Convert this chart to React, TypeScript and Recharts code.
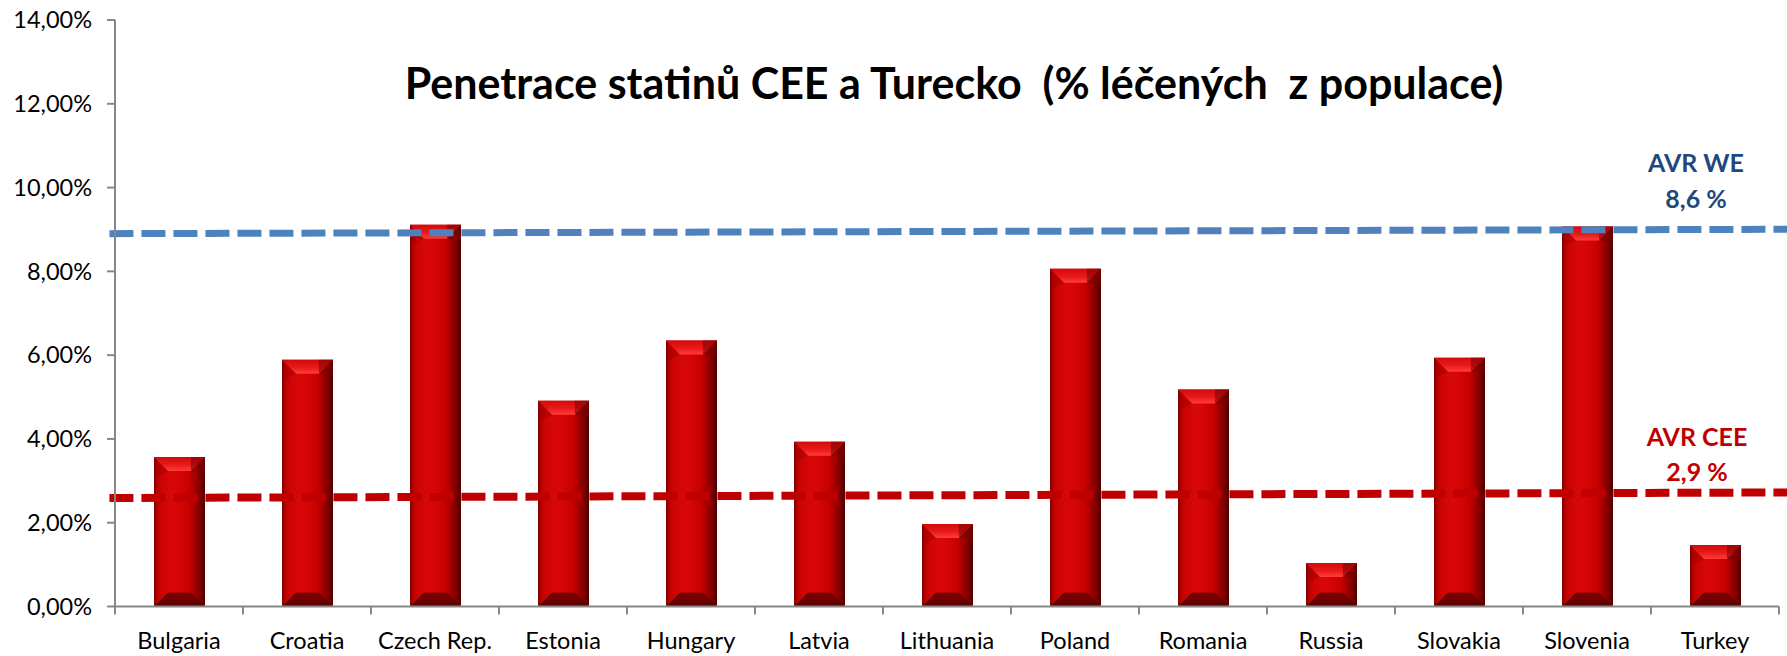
import React from 'react';
import { BarChart, Bar, XAxis, YAxis, ReferenceLine } from 'recharts';

// ─── data ────────────────────────────────────────────────────────────────
const countries = [
  'Bulgaria', 'Croatia', 'Czech Rep.', 'Estonia', 'Hungary', 'Latvia', 'Lithuania',
  'Poland', 'Romania', 'Russia', 'Slovakia', 'Slovenia', 'Turkey',
];
const penetration = [3.57, 5.89, 9.11, 4.91, 6.35, 3.93, 1.97, 8.06, 5.18, 1.04, 5.94, 9.07, 1.47];
const yTicks = [0, 2, 4, 6, 8, 10, 12, 14];

// average lines (start / end of the dashed segment, in % and band units)
const avgWe = [8.9, 9.01];
const avgCee = [2.59, 2.73];
const avgSpan = [-0.04, 12.8];

const data = countries.map((name, i) => ({ name, value: penetration[i] }));

const W = 1787;
const H = 656;
const M = { top: 20, right: 8, bottom: 0, left: 0 };
const Y_AXIS_W = 115;
const X_AXIS_H = 49.5;
const BAND = (W - M.right - Y_AXIS_W) / countries.length;
const BAR_W = 51;

const FONT = 'Lato, "Open Sans", sans-serif';

const fmtPct = (v: number) => v.toFixed(2).replace('.', ',') + '%';

// gradients live in their own tiny svg so every bar can point at them
const BarDefs = () => (
  <svg width={0} height={0} style={{ position: 'absolute' }}>
    <defs>
      <linearGradient id="barSide" x1="0" y1="0" x2="1" y2="0">
        <stop offset="0%" stopColor="#7e0000" />
        <stop offset="6%" stopColor="#b80000" />
        <stop offset="16%" stopColor="#d00404" />
        <stop offset="40%" stopColor="#d80808" />
        <stop offset="66%" stopColor="#cc0000" />
        <stop offset="82%" stopColor="#a00000" />
        <stop offset="100%" stopColor="#520000" />
      </linearGradient>
      <linearGradient id="barTop" x1="0" y1="0" x2="0" y2="1">
        <stop offset="0%" stopColor="#d40a0a" />
        <stop offset="55%" stopColor="#e81a1a" />
        <stop offset="100%" stopColor="#ff3c3c" />
      </linearGradient>
      <linearGradient id="barBottom" x1="0" y1="0" x2="0" y2="1">
        <stop offset="0%" stopColor="#800000" />
        <stop offset="100%" stopColor="#5e0000" />
      </linearGradient>
    </defs>
  </svg>
);

// ─── bevelled bar ───────────────────────────────────────────────────────
// recharts may hand over a negative width/height, so normalise first
const BevelBar = (props: any) => {
  const rx = Number(props.x);
  const ry = Number(props.y);
  const rw = Number(props.width);
  const rh = Number(props.height);
  const x = Math.min(rx, rx + rw);
  const y = Math.min(ry, ry + rh);
  const w = Math.abs(rw);
  const h = Math.abs(rh);
  if (!h || !w) return null;
  const b = Math.min(14, h / 3);
  return (
    <g>
      <polygon points={`${x},${y} ${x + w},${y} ${x + w},${y + h} ${x},${y + h}`} fill="url(#barSide)" />
      <polygon
        points={`${x},${y} ${x + w},${y} ${x + w - b},${y + b} ${x + b},${y + b}`}
        fill="url(#barTop)"
      />
      <polygon
        points={`${x + w * 0.72},${y} ${x + w},${y} ${x + w},${y + b * 1.1} ${x + w - b},${y + b}`}
        fill="#7a0000"
        opacity={0.55}
      />
      <polygon
        points={`${x},${y} ${x + b},${y + b} ${x + b * 0.4},${y + b * 1.3} ${x},${y + b * 1.3}`}
        fill="#900000"
        opacity={0.35}
      />
      <polygon
        points={`${x + b},${y + h - b} ${x + w - b},${y + h - b} ${x + w},${y + h} ${x},${y + h}`}
        fill="url(#barBottom)"
      />
    </g>
  );
};

// category label plus tick marks on the band boundaries
const CategoryTick = (props: any) => {
  const { x, y, payload, index } = props;
  const axisY = y - 26;
  const last = index === countries.length - 1;
  return (
    <g>
      <line x1={x - BAND / 2} y1={axisY} x2={x - BAND / 2} y2={axisY + 8} stroke="#878787" strokeWidth={2} />
      {last && (
        <line x1={x + BAND / 2} y1={axisY} x2={x + BAND / 2} y2={axisY + 8} stroke="#878787" strokeWidth={2} />
      )}
      <text x={x} y={y} dy="0.71em" textAnchor="middle" fontFamily={FONT} fontSize={23.5} fill="#000">
        {payload.value}
      </text>
    </g>
  );
};

export default function App() {
  return (
    <div style={{ position: 'absolute', left: 0, top: 0, width: W, height: H, background: '#fff' }}>
      <BarDefs />
      <BarChart width={W} height={H} data={data} margin={M}>
        <XAxis
          dataKey="name"
          xAxisId="cat"
          height={X_AXIS_H}
          axisLine={{ stroke: '#878787', strokeWidth: 2 }}
          tickLine={false}
          tickSize={8}
          tickMargin={18}
          interval={0}
          tick={<CategoryTick />}
        />
        <XAxis xAxisId="num" type="number" domain={[0, countries.length]} hide />
        <YAxis
          width={Y_AXIS_W}
          domain={[0, 14]}
          ticks={yTicks}
          tickFormatter={fmtPct}
          axisLine={{ stroke: '#878787', strokeWidth: 2 }}
          tickLine={{ stroke: '#878787', strokeWidth: 2 }}
          tickSize={8}
          tickMargin={15}
          tick={{ fontFamily: FONT, fontSize: 23.5, fill: '#000' }}
        />
        <Bar xAxisId="cat" dataKey="value" barSize={BAR_W} shape={<BevelBar />} isAnimationActive={false} />
        <ReferenceLine
          xAxisId="num"
          segment={[{ x: avgSpan[0], y: avgWe[0] }, { x: avgSpan[1], y: avgWe[1] }]}
          stroke="#4f81bd"
          strokeWidth={7}
          strokeDasharray="24 8"
          ifOverflow="visible"
        />
        <ReferenceLine
          xAxisId="num"
          segment={[{ x: avgSpan[0], y: avgCee[0] }, { x: avgSpan[1], y: avgCee[1] }]}
          stroke="#c00000"
          strokeWidth={8}
          strokeDasharray="24 8"
          ifOverflow="visible"
        />
      </BarChart>
      <svg width={W} height={H} style={{ position: 'absolute', left: 0, top: 0, pointerEvents: 'none' }}>
        <text
          x={954}
          y={99}
          textAnchor="middle"
          fontFamily={FONT}
          fontWeight={700}
          fontSize={43}
          fill="#000"
          style={{ whiteSpace: 'pre' }}
        >
          Penetrace statinů CEE a Turecko  (% léčených  z populace)
        </text>
        <g fontFamily={FONT} fontWeight={700} fontSize={25} textAnchor="middle">
          <text x={1696} y={172} fill="#1f497d">AVR WE</text>
          <text x={1696} y={208} fill="#1f497d">8,6 %</text>
          <text x={1697} y={446} fill="#c00000">AVR CEE</text>
          <text x={1697} y={481} fill="#c00000">2,9 %</text>
        </g>
      </svg>
    </div>
  );
}
